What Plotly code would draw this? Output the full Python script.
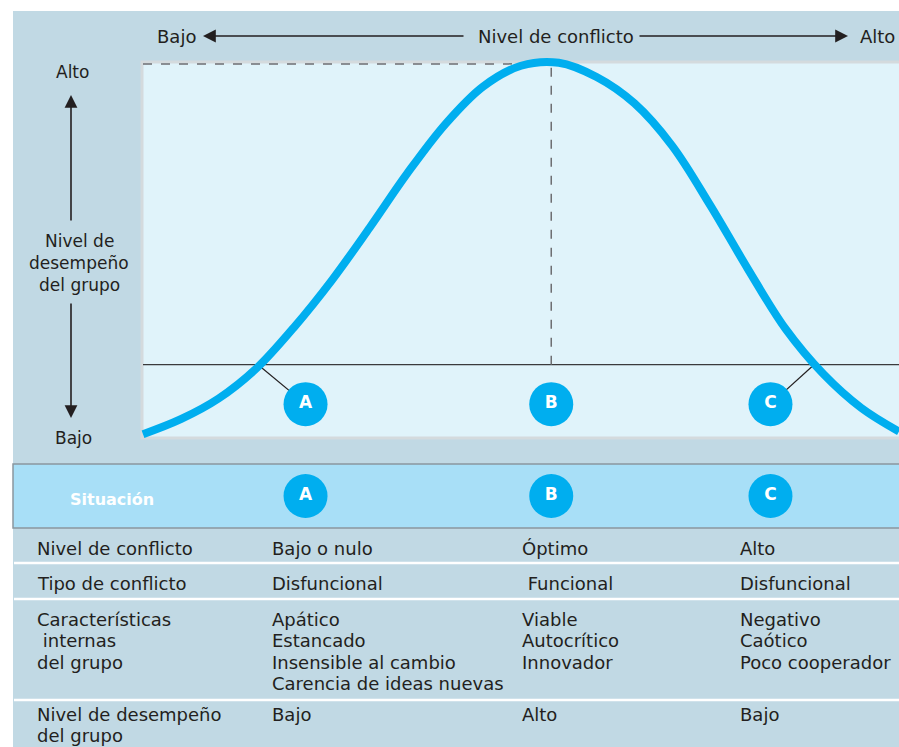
import plotly.graph_objects as go

# curve: conflict level (0-100) vs group performance (0-100)
conflict_level = [0, 5, 10, 15, 20, 25, 30, 35, 40, 45, 50, 55,
                  60, 65, 70, 75, 80, 85, 90, 95, 100]
group_performance = [1, 5, 10.5, 18.5, 29.5, 42, 56, 70.5, 83.5, 93.5, 99, 99.8,
                     96, 89, 77.7, 62, 45, 29, 17, 8, 1.7]

situations = ["A", "B", "C"]
situation_conflict = [21.5, 54, 83]
crossing_conflict = [15.5, 54, 88.5]
threshold_performance = 19.5
optimum_conflict = 54

row_labels = [["Nivel de conflicto"], ["Tipo de conflicto"],
              ["Características", " internas", "del grupo"],
              ["Nivel de desempeño", "del grupo"]]
col_a = [["Bajo o nulo"], ["Disfuncional"],
         ["Apático", "Estancado", "Insensible al cambio", "Carencia de ideas nuevas"], ["Bajo"]]
col_b = [["Óptimo"], [" Funcional"], ["Viable", "Autocrítico", "Innovador"], ["Alto"]]
col_c = [["Alto"], ["Disfuncional"], ["Negativo", "Caótico", "Poco cooperador"], ["Bajo"]]

W, H = 899, 747
FONT = "DejaVu Sans"
INK = "#231f20"
BLUE = "#00aeef"


def px(x):
    return x / W


def py(y):
    return 1 - y / H


# plot box in pixels: left 143, right 899, top 62, bottom 438
x_lo = -143 * 100 / (899 - 143)
y_lo = -(H - 438) * 100 / (438 - 62)
y_hi = 100 + 62 * 100 / (438 - 62)

fig = go.Figure()

# leader lines from curve crossings to the circles
for xc, xs in zip(crossing_conflict, situation_conflict):
    if xc == xs:
        continue
    fig.add_trace(go.Scatter(x=[xc, xs], y=[threshold_performance - 0.5, 9],
                             mode="lines", line=dict(color="#231f20", width=1.2),
                             hoverinfo="skip", showlegend=False))

fig.add_trace(go.Scatter(
    x=conflict_level, y=group_performance, mode="lines",
    line=dict(color=BLUE, width=8, shape="spline", smoothing=1.0),
    hoverinfo="skip", showlegend=False))

circle_font = dict(family=FONT, size=17, color="white", weight="bold")
fig.add_trace(go.Scatter(
    x=situation_conflict, y=[9] * 3, mode="markers+text", text=situations,
    textposition="middle center", textfont=circle_font,
    marker=dict(size=44, color=BLUE, line=dict(width=0)),
    hoverinfo="skip", showlegend=False))
fig.add_trace(go.Scatter(
    x=situation_conflict, y=[0.5] * 3, yaxis="y2", mode="markers+text", text=situations,
    textposition="middle center", textfont=circle_font,
    marker=dict(size=44, color=BLUE, line=dict(width=0)),
    hoverinfo="skip", showlegend=False))

shapes = [
    # panel
    dict(type="rect", xref="paper", yref="paper", x0=px(13), x1=1.01, y0=-0.01, y1=py(11),
         fillcolor="#c1d9e4", line=dict(width=0), layer="below"),
    # plot area
    dict(type="rect", xref="paper", yref="paper", x0=px(142), x1=1.01, y0=py(438), y1=py(62),
         fillcolor="#e0f3fa", line=dict(color="#d4dadd", width=3), layer="below"),
    # situation band
    dict(type="rect", xref="paper", yref="paper", x0=px(13), x1=1.01, y0=py(528), y1=py(464),
         fillcolor="#a8dff7", line=dict(color="#8a979e", width=1.5), layer="below"),
    # threshold line
    dict(type="line", xref="x", yref="y", x0=0, x1=100,
         y0=threshold_performance, y1=threshold_performance,
         line=dict(color="#3a3a3c", width=1.2), layer="below"),
    # optimum dashed lines
    dict(type="line", xref="x", yref="y", x0=optimum_conflict, x1=optimum_conflict,
         y0=threshold_performance, y1=100, line=dict(color="#6d6e71", width=1.5, dash="dash"),
         layer="below"),
    dict(type="line", xref="x", yref="y", x0=0, x1=50, y0=99.5, y1=99.5,
         line=dict(color="#6d6e71", width=1.5, dash="dash"), layer="below"),
]
for sep in [563, 599, 700]:
    shapes.append(dict(type="line", xref="paper", yref="paper", x0=px(14), x1=1.01,
                       y0=py(sep), y1=py(sep), line=dict(color="white", width=2.5),
                       layer="below"))

annotations = []


def txt(x, y, s, size=18, anchor="left", bold=False, color=INK):
    annotations.append(dict(
        x=px(x), y=py(y), xref="paper", yref="paper", text=s, showarrow=False,
        xanchor=anchor, yanchor="middle",
        font=dict(family=FONT, size=size, color=color, weight="bold" if bold else "normal")))


def arrow(x, y, ax, ay):
    annotations.append(dict(
        x=px(x), y=py(y), xref="paper", yref="paper", text="", showarrow=True,
        ax=ax, ay=ay, arrowhead=2, arrowsize=1.6, arrowwidth=1.6, arrowcolor=INK))


# top axis caption
txt(155, 36, "Bajo")
txt(476, 36, "Nivel de conflicto")
txt(858, 36, "Alto")
arrow(203, 36, 262, 0)
arrow(848, 36, -210, 0)

# side axis caption
txt(72, 72, "Alto", size=17, anchor="center")
txt(73, 438, "Bajo", size=17, anchor="center")
for i, line in enumerate(["Nivel de", "desempeño", "del grupo"]):
    txt(79, 241 + 22 * i, line, size=17, anchor="center")
arrow(71, 95, 0, 127)
arrow(71, 418, 0, -116)

txt(68, 499, "Situación", size=16, bold=True, color="white")

# table
row_y = [548, 583, 619, 714]
col_x = [35, 270, 520, 738]
for col, cells in zip(col_x, [row_labels, col_a, col_b, col_c]):
    for y0, lines in zip(row_y, cells):
        for i, line in enumerate(lines):
            txt(col, y0 + 21.5 * i, line)

fig.update_layout(
    width=W, height=H,
    margin=dict(l=0, r=0, t=0, b=0),
    paper_bgcolor="white",
    plot_bgcolor="rgba(0,0,0,0)",
    xaxis=dict(domain=[0, 1], range=[x_lo, 100 * (W - 143) / (899 - 143)], visible=False,
               fixedrange=True),
    yaxis=dict(domain=[0, 1], range=[y_lo, y_hi], visible=False, fixedrange=True),
    yaxis2=dict(domain=[py(528), py(464)], range=[0, 1], visible=False, anchor="x",
                fixedrange=True),
    shapes=shapes,
    annotations=annotations,
    showlegend=False,
)

# drop the page's default body margin so the figure sits at the window corner
fig.write_html("out.html", post_script="document.body.style.margin='0';",
               config={"displayModeBar": False})
